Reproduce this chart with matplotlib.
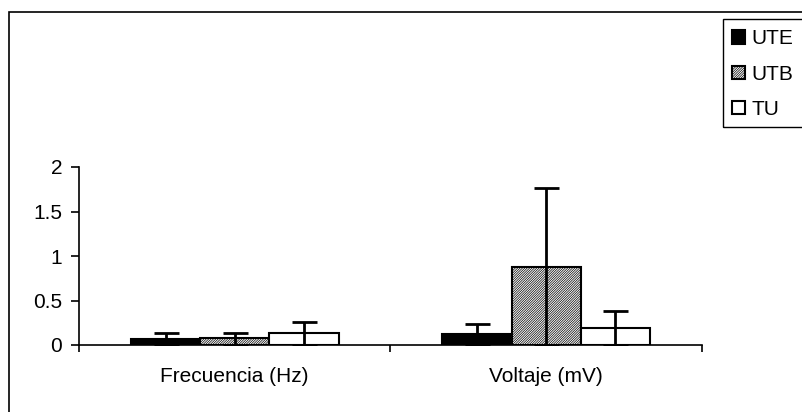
import matplotlib
matplotlib.use("Agg")
import matplotlib.pyplot as plt
import numpy as np
from matplotlib.patches import Patch, Rectangle

plt.rcParams["font.family"] = ["Liberation Sans", "DejaVu Sans"]
plt.rcParams["hatch.linewidth"] = 0.5

categories = ["Frecuencia (Hz)", "Voltaje (mV)"]
series = ["UTE", "UTB", "TU"]
means = {
    "UTE": [0.07, 0.125],
    "UTB": [0.08, 0.88],
    "TU": [0.135, 0.19],
}
errors = {
    "UTE": [0.06, 0.115],
    "UTB": [0.06, 0.88],
    "TU": [0.125, 0.19],
}
styles = {
    "UTE": dict(facecolor="black", hatch=None),
    "UTB": dict(facecolor="white", hatch="//////////////"),
    "TU": dict(facecolor="white", hatch=None),
}

fig = plt.figure(figsize=(8.03, 4.12), dpi=100)
ax = fig.add_axes([79 / 803, 1 - 345 / 412, 623 / 803, 178 / 412])

# excel-style clustered bars: gap width 150%
n = len(series)
width = 1.0 / (n + 1.5)
x = np.arange(len(categories)) + 0.5
for i, name in enumerate(series):
    pos = x + (i - (n - 1) / 2) * width
    m = np.array(means[name])
    ax.bar(pos, m, width, edgecolor="black", linewidth=1.5,
           label=name, zorder=2, **styles[name])
    # stem runs from the baseline up through the bar to mean + sd
    ax.errorbar(pos, m, yerr=[m, errors[name]],
                fmt="none", ecolor="black", elinewidth=2, capsize=9,
                capthick=2, zorder=3)

ax.set_xlim(0, len(categories))
ax.set_ylim(0, 2)
ax.set_yticks([0, 0.5, 1, 1.5, 2])
ax.set_yticklabels(["0", "0.5", "1", "1.5", "2"])
ax.set_xticks(np.arange(len(categories) + 1))
ax.set_xticklabels([])
ax.set_xticks(x, minor=True)
ax.set_xticklabels(categories, minor=True)
ax.tick_params(axis="x", which="minor", length=0, pad=16, labelsize=15)
ax.tick_params(axis="x", which="major", length=5, width=1.2, direction="out")
ax.tick_params(axis="y", length=6, width=1.2, direction="out", pad=6, labelsize=15)
for side in ["top", "right"]:
    ax.spines[side].set_visible(False)
for side in ["left", "bottom"]:
    ax.spines[side].set_linewidth(1.2)

handles = [Patch(edgecolor="black", linewidth=1.5, label=s, **styles[s]) for s in series]
fig.legend(handles=handles, loc="upper left",
           bbox_to_anchor=(724 / 803, 1 - 21 / 412),
           frameon=False, fontsize=15,
           handlelength=0.6, handleheight=0.6, handletextpad=0.3,
           labelspacing=0.78, borderpad=0.4, borderaxespad=0)

# legend box runs off the right edge of the chart area
fig.patches.append(Rectangle((723.5 / 803, 1 - 127 / 412), 0.2, 108 / 412,
                             transform=fig.transFigure, fill=False,
                             edgecolor="black", linewidth=1.0))

# outer chart border (right and bottom edges fall outside the canvas)
fig.patches.append(Rectangle((9.5 / 803, -0.1), 1.2, 1 - 12 / 412 + 0.1,
                             transform=fig.transFigure, fill=False,
                             edgecolor="black", linewidth=1.2))

fig.savefig("out.png", dpi=100)
